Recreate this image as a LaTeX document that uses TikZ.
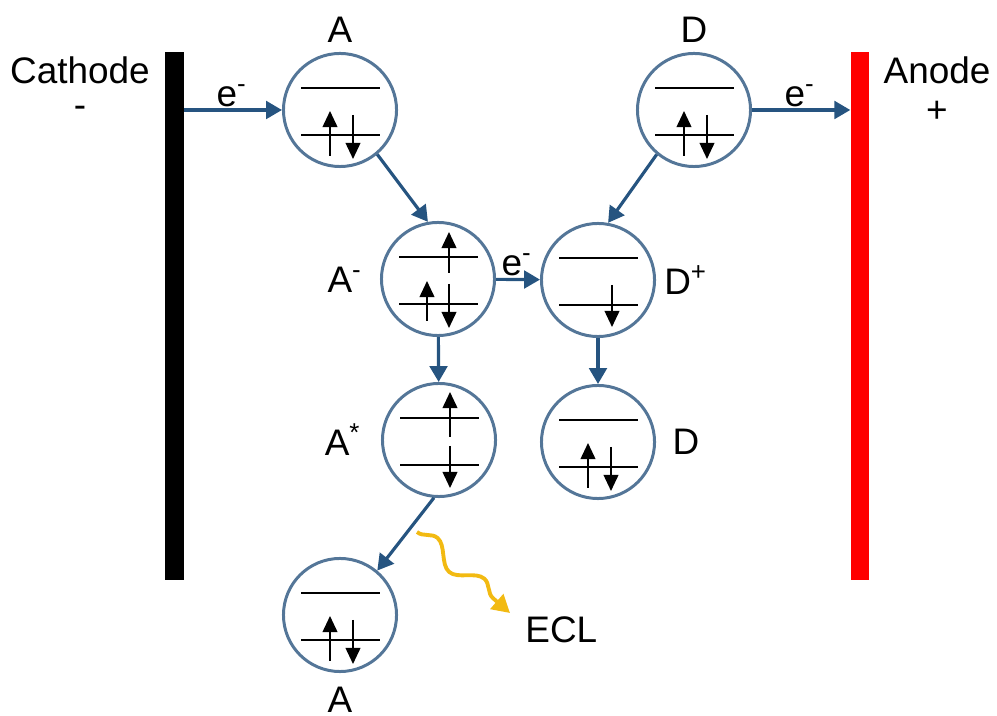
\documentclass[tikz,border=0pt]{standalone}
\usepackage{fontspec}
\setmainfont{Liberation Sans}
\usetikzlibrary{arrows.meta,decorations.pathmorphing}
\definecolor{orbline}{RGB}{84,118,152}
\definecolor{flow}{RGB}{38,84,128}
\definecolor{photon}{RGB}{242,186,18}
\tikzset{
  orb/.style={circle,draw=orbline,line width=0.85pt,minimum size=1.13cm,inner sep=0pt},
  flowarr/.style={-{Triangle[length=4.5pt,width=5pt]},draw=flow,line width=0.9pt},
  spin/.style={-{Triangle[length=4.6pt,width=4.2pt]},line width=0.55pt},
  level/.style={line width=0.5pt},
  electrode/.style={rectangle,inner sep=0pt,minimum width=0.18cm,minimum height=5.28cm},
  lbl/.style={font=\fontsize{10.5}{12}\selectfont}
}
% two energy levels of an orbital circle
\newcommand{\levels}{\draw[level] (-39,-22) -- (40,-22) (-39,25) -- (40,25);}
\begin{document}
\begin{tikzpicture}[x=0.01cm,y=-0.01cm]
  \useasboundingbox (0,0) rectangle (997,716);
  % electrodes
  \node[electrode,fill=black] (cath) at (174.5,316) {};
  \node[electrode,fill=red] (anod) at (860,316) {};
  \node[lbl] (cathlbl) at (80,70) {Cathode};
  \node[lbl] (cathsgn) at (80,112) {-};
  \node[lbl] (anodlbl) at (937,70) {Anode};
  \node[lbl] (anodsgn) at (937,112) {+};
  % orbitals
  \node[orb] (A1) at (340,110) {};
  \node[orb] (D1) at (694,110) {};
  \node[orb] (Am) at (438,279) {};
  \node[orb] (Dp) at (598,280) {};
  \node[orb] (As) at (439,440) {};
  \node[orb] (D2) at (598,442) {};
  \node[orb] (A2) at (340,615) {};
  % labels
  \node[lbl] (A1lbl) at (340,30) {A};
  \node[lbl] (D1lbl) at (694,30) {D};
  \node[lbl] (Amlbl) at (345,280) {A\textsuperscript{-}};
  \node[lbl] (Dplbl) at (686,280) {D\textsuperscript{+}};
  \node[lbl] (Aslbl) at (343,440) {A\textsuperscript{*}};
  \node[lbl] (D2lbl) at (686,442) {D};
  \node[lbl] (A2lbl) at (340,700) {A};
  \node[lbl,anchor=west] (ecl) at (513,630) {ECL};
  % levels and spins
  \begin{scope}[shift={(A1)}]
    \levels
    \draw[spin] (-10,46) -- (-10,1);
    \draw[spin] (13,5) -- (13,49);
  \end{scope}
  \begin{scope}[shift={(D1)}]
    \levels
    \draw[spin] (-10,46) -- (-10,1);
    \draw[spin] (13,5) -- (13,49);
  \end{scope}
  \begin{scope}[shift={(A2)}]
    \levels
    \draw[spin] (-10,46) -- (-10,1);
    \draw[spin] (13,5) -- (13,49);
  \end{scope}
  \begin{scope}[shift={(D2)}]
    \levels
    \draw[spin] (-10,46) -- (-10,1);
    \draw[spin] (13,5) -- (13,49);
  \end{scope}
  \begin{scope}[shift={(Am)}]
    \levels
    \draw[spin] (11,-6) -- (11,-47);
    \draw[spin] (-11,42) -- (-11,2);
    \draw[spin] (11,5) -- (11,49);
  \end{scope}
  \begin{scope}[shift={(As)}]
    \levels
    \draw[spin] (11,-3) -- (11,-48);
    \draw[spin] (11,6) -- (11,48);
  \end{scope}
  \begin{scope}[shift={(Dp)}]
    \levels
    \draw[spin] (14,5) -- (14,47);
  \end{scope}
  % electron transfer
  \draw[flowarr] (cath.east |- A1) -- (A1);
  \node[lbl] (e1) at (232,96) {e\textsuperscript{-}};
  \draw[flowarr] (D1) -- (anod.west |- D1);
  \node[lbl] (e2) at (800,96) {e\textsuperscript{-}};
  \draw[flowarr] (Am) -- (Dp);
  \node[lbl] (e3) at (517,265) {e\textsuperscript{-}};
  \draw[flowarr] (A1.-50) -- (Am.100);
  \draw[flowarr] (D1.-130) -- (Dp.80);
  \draw[flowarr] (Am) -- (As);
  \draw[flowarr] (Dp) -- (D2);
  \draw[flowarr] (As.-95) -- (A2.50);
  % light emission
  \coordinate (w1) at (417,532);
  \coordinate (w2) at (510,613);
  \draw[photon,line width=1.1pt,-{Triangle[length=5pt,width=5.5pt]},
    decorate,decoration={snake,amplitude=0.09cm,segment length=0.62cm,post length=0.14cm}]
    (w1) -- (w2);
\end{tikzpicture}
\end{document}
